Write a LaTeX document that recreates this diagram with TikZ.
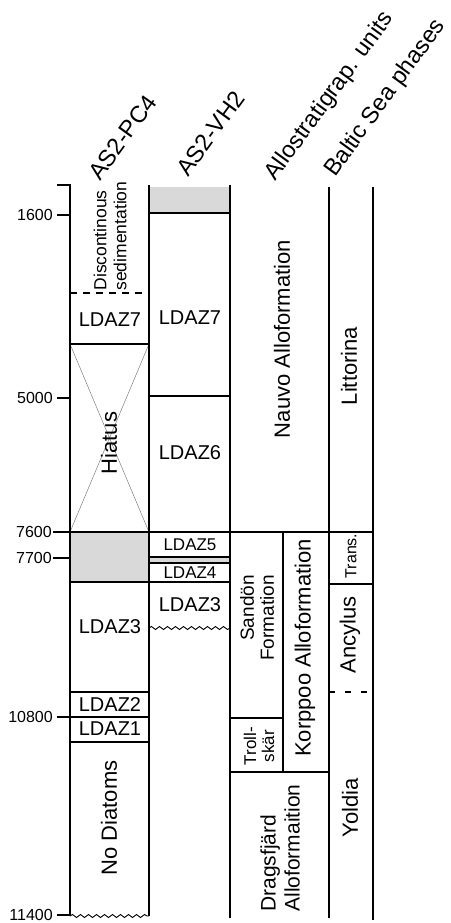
\documentclass[tikz,border=0pt]{standalone}
\usepackage{fontspec}
\setmainfont{Liberation Sans}
\usetikzlibrary{decorations.pathmorphing}
\definecolor{boxgray}{gray}{0.85}
\begin{document}
\begin{tikzpicture}[x=1pt,y=-1pt,
 col/.style={line width=1.6pt},
 hl/.style={line width=1.1pt},
 lab/.style={font=\fontsize{20}{22}\selectfont, inner sep=0pt},
 smlab/.style={font=\fontsize{17}{19}\selectfont, inner sep=0pt},
 vlab/.style={font=\fontsize{22}{24}\selectfont, rotate=90, inner sep=0pt},
 vsmall/.style={rotate=90, inner sep=0pt},
 ticklab/.style={font=\fontsize{16}{18}\selectfont, anchor=east, inner sep=0pt},
 head/.style={font=\fontsize{23.5}{25}\selectfont, rotate=54, anchor=base west, inner sep=0pt},
 wavy/.style={decorate, decoration={snake, segment length=8pt, amplitude=1.5pt}, line width=0.9pt},
 xline/.style={draw=gray, line width=0.5pt}
]
\useasboundingbox[fill=white] (0,0) rectangle (450,923);

% gray fills
\fill[boxgray] (149,187) rectangle (230,213);
\fill[boxgray] (70,532) rectangle (149,582);
\fill[boxgray] (149,557) rectangle (230,563);

% headers
\node[head] (h1) at (100,182) {AS2-PC4};
\node[head] (h2) at (188,178) {AS2-VH2};
\node[head] (h3) at (275,182) {Allostratigrap. units};
\node[head] (h4) at (335,178) {Baltic Sea phases};

% ticks and depth labels
\draw[hl] (57,215) -- (70,215);
\draw[hl] (57,398) -- (70,398);
\draw[hl] (53,532) -- (70,532);
\draw[hl] (53,558) -- (70,558);
\draw[hl] (57,717) -- (70,717);
\draw[hl] (57,915) -- (70,915);
\node[ticklab] (t1) at (53,215) {1600};
\node[ticklab] (t2) at (53,398) {5000};
\node[ticklab] (t3) at (52,532) {7600};
\node[ticklab] (t4) at (52,558) {7700};
\node[ticklab] (t5) at (53,717) {10800};
\node[ticklab] (t6) at (53,915) {11400};

% column 1 (AS2-PC4)
\draw[hl, dash pattern=on 7pt off 6pt] (70,293) -- (149,293);
\draw[hl] (70,344) -- (149,344);
\draw[xline] (70,344) -- (149,532) (149,344) -- (70,532);
\draw[hl] (70,582) -- (230,582);
\draw[hl] (70,692) -- (149,692);
\draw[hl] (70,717) -- (149,717);
\draw[hl] (70,742) -- (149,742);
\draw[wavy] (70,916) -- (149,916);

% column 2 (AS2-VH2)
\draw[hl] (149,213) -- (230,213);
\draw[hl] (149,396) -- (230,396);
\draw[hl] (149,557) -- (230,557);
\draw[hl] (149,563) -- (230,563);
\draw[wavy] (149,628) -- (230,628);

% 7600 line
\draw[hl] (70,532) -- (373,532);

% column 3 (allostratigraphic units)
\draw[hl] (283,532) -- (283,772);
\draw[hl] (230,718) -- (283,718);
\draw[hl] (230,772) -- (329,772);

% column 4 (Baltic Sea phases)
\draw[hl] (329,584) -- (373,584);
\draw[hl, dash pattern=on 6pt off 10pt] (329,692) -- (373,692);

% main vertical lines
\draw[col] (57,185) -- (70,185) -- (70,916);
\draw[col] (149,185) -- (149,916);
\draw[col] (230,185) -- (230,918);
\draw[col] (329,187) -- (329,918);
\draw[col] (373,187) -- (373,920);

% column 1 texts
\node[vsmall, align=left, font=\fontsize{17.5}{20}\selectfont] (disc) at (110,236) {Discontinous\\sedimentation};
\node[lab] (a7) at (110,320) {LDAZ7};
\node[vlab] (hiatus) at (109,443) {Hiatus};
\node[lab] (a3) at (110,627) {LDAZ3};
\node[lab] (a2) at (110,705) {LDAZ2};
\node[lab] (a1) at (110,729) {LDAZ1};
\node[vlab] (nodia) at (109,818) {No Diatoms};

% column 2 texts
\node[lab] (b7) at (190,318) {LDAZ7};
\node[lab] (b6) at (190,453) {LDAZ6};
\node[smlab] (b5) at (190,545) {LDAZ5};
\node[smlab] (b4) at (190,573) {LDAZ4};
\node[lab] (b3) at (190,605) {LDAZ3};

% column 3 texts
\node[vlab] (nauvo) at (282,339) {Nauvo Alloformation};
\node[vsmall, align=right, font=\fontsize{19}{20}\selectfont] (sandon) at (257,618) {Sandön\\Formation};
\node[vlab] (korppoo) at (305,648) {Korppoo Alloformation};
\node[vsmall, align=center, font=\fontsize{17}{18}\selectfont] (troll) at (259,746) {Troll-\\skär};
\node[vsmall, align=left, font=\fontsize{21}{24}\selectfont] (drag) at (280,848) {Dragsfjärd\\Alloformaition};

% column 4 texts
\node[vlab] (litt) at (349,366) {Littorina};
\node[vsmall, font=\fontsize{16}{18}\selectfont] (trans) at (351,556) {Trans.};
\node[vlab] (ancy) at (350,635) {Ancylus};
\node[vlab] (yold) at (350,808) {Yoldia};
\end{tikzpicture}
\end{document}
